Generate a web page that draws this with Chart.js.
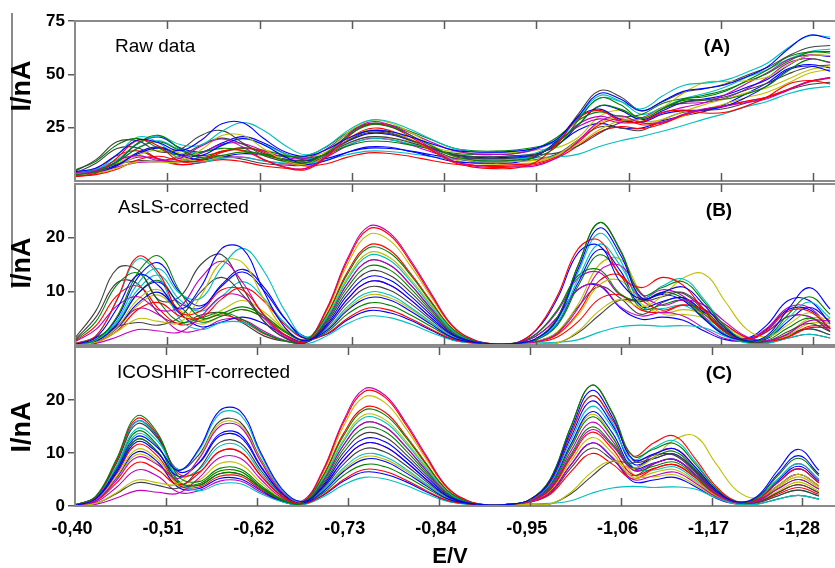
<!DOCTYPE html>
<html>
<head>
<meta charset="utf-8">
<script src="https://cdn.jsdelivr.net/npm/chart.js@4.4.1/dist/chart.umd.min.js"></script>
<style>
  html, body { margin: 0; padding: 0; background: #fff; overflow: hidden; }
  #wrap { position: relative; width: 835px; height: 568px; }
  #wrap canvas { position: absolute; left: 0; top: 0; }
</style>
</head>
<body>
<div id="wrap">
  <canvas id="chartA" width="835" height="568"></canvas>
  <canvas id="chartB" width="835" height="568"></canvas>
  <canvas id="chartC" width="835" height="568"></canvas>
</div>
<script>
// ---- data (potential in V, current in nA) ----
const E_V = [-0.400, -0.425, -0.450, -0.475, -0.500, -0.525, -0.550, -0.575, -0.600, -0.625,
             -0.650, -0.675, -0.700, -0.725, -0.750, -0.775, -0.800, -0.825, -0.850, -0.875,
             -0.900, -0.925, -0.950, -0.975, -1.000, -1.025, -1.050, -1.075, -1.100, -1.125,
             -1.150, -1.175, -1.200, -1.225, -1.250, -1.275, -1.300];

const X_TICKS = [-0.40, -0.51, -0.62, -0.73, -0.84, -0.95, -1.06, -1.17, -1.28];
const Y_TICKS_A = [25, 50, 75];
const Y_TICKS_B = [10, 20];
const Y_TICKS_C = [0, 10, 20];

const LINE_COLORS = ['#0000ff', '#008000', '#ff0000', '#00bfbf', '#bf00bf', '#bfbf00', '#404040'];

// (A) raw voltammograms
const rawCurves = [
  [4.3,6.1,12.3,19.3,17.9,14.2,19.0,26.8,27.3,19.9,13.7,11.6,14.8,20.0,23.5,23.2,20.6,17.5,14.6,13.6,13.5,14.0,15.5,19.8,30.5,41.0,38.4,32.8,37.4,42.0,43.4,45.1,48.8,53.4,61.9,68.3,66.7],
  [3.0,4.2,9.1,17.8,21.4,15.2,10.8,12.0,13.6,12.3,9.8,8.5,13.3,21.2,26.2,25.5,21.5,16.4,11.8,9.8,9.4,9.8,11.1,16.5,28.5,38.8,35.7,29.4,33.7,37.8,38.0,38.4,40.8,44.5,51.7,57.0,55.7],
  [2.0,3.7,10.8,19.1,16.3,9.3,9.9,14.0,14.2,9.9,6.3,5.3,11.3,20.6,26.6,25.6,20.6,14.5,8.9,6.5,5.8,6.1,9.0,17.6,29.5,33.1,28.2,27.7,32.2,33.2,31.9,32.2,35.1,39.4,45.4,47.1,45.5],
  [4.3,5.6,10.0,17.7,21.1,17.1,16.9,23.3,27.4,23.7,16.8,12.3,16.3,23.6,28.4,27.8,24.1,19.6,15.4,13.8,13.5,14.0,15.4,19.4,29.3,38.8,37.3,33.8,39.8,44.8,45.9,47.3,50.9,55.2,62.5,68.0,67.5],
  [2.5,5.1,9.8,11.9,9.7,10.6,16.3,19.7,15.9,10.1,6.7,5.8,12.0,21.5,27.5,26.4,21.4,15.3,9.5,7.0,6.3,6.6,7.2,11.1,18.9,27.9,30.6,27.2,27.6,31.3,33.8,35.1,36.8,38.6,42.6,46.7,48.5],
  [2.8,3.6,6.1,9.0,8.9,9.1,14.5,21.3,21.4,15.1,9.6,8.0,13.6,22.6,28.3,27.3,22.7,17.0,11.7,9.4,8.9,9.2,9.7,12.0,17.5,24.0,28.3,29.1,34.4,41.1,46.2,46.6,47.0,48.8,54.4,58.8,58.8],
  [4.5,10.0,18.4,18.8,13.7,14.8,21.3,23.6,17.8,12.0,9.3,8.7,12.8,18.9,22.7,22.2,19.2,15.5,12.0,10.7,10.4,10.8,12.2,18.4,31.5,42.3,39.5,33.0,37.1,41.5,43.3,45.5,49.5,53.2,58.6,62.6,63.5],
  [2.7,3.6,7.2,13.4,15.9,12.4,11.9,16.7,19.9,16.9,11.4,7.8,9.6,13.5,16.0,15.8,13.8,11.5,9.2,8.5,8.4,8.7,11.6,19.1,30.0,33.7,28.8,27.5,31.3,33.0,33.3,35.1,39.2,44.7,52.0,53.9,51.5],
  [5.1,9.3,16.9,19.9,15.3,12.1,13.5,15.3,14.4,12.6,11.6,11.7,16.1,22.7,26.9,26.4,23.2,19.3,15.6,14.2,14.0,14.5,15.9,18.7,26.6,35.2,33.7,29.8,34.0,38.2,40.2,42.7,46.6,50.4,56.1,60.2,60.7],
  [2.3,3.0,5.5,10.0,11.6,9.5,9.5,13.4,15.7,13.5,9.4,7.0,8.1,11.2,13.2,12.9,11.5,9.6,8.0,7.4,7.3,7.7,8.3,11.6,18.3,26.4,29.2,26.4,27.2,30.9,33.6,35.3,37.4,39.4,42.9,46.4,48.2],
  [3.2,5.1,12.3,20.6,17.8,10.3,8.9,10.7,11.0,9.5,8.4,8.1,9.9,12.4,14.0,13.8,12.8,11.4,10.2,9.8,9.9,10.3,10.9,11.3,12.6,16.2,18.9,20.9,23.3,26.0,29.0,31.7,34.8,37.3,40.9,43.3,44.3],
  [3.8,4.6,6.5,8.7,9.0,9.4,12.9,17.3,17.6,14.1,11.2,10.6,15.1,22.1,26.5,25.9,22.5,18.2,14.4,12.7,12.4,12.9,14.9,19.1,25.5,29.1,27.3,27.8,31.9,34.5,36.7,40.4,45.6,50.7,56.8,59.1,58.6],
  [2.5,3.3,6.5,12.1,14.3,10.9,9.2,11.6,13.7,11.9,8.9,7.3,11.8,19.2,24.0,23.2,19.4,14.6,10.2,8.3,7.9,8.2,8.9,12.3,19.2,27.2,30.0,27.7,28.9,32.6,35.8,38.4,41.3,43.7,47.8,52.0,54.0],
  [3.8,5.4,8.0,9.5,9.5,11.6,16.8,20.1,17.2,12.9,10.2,9.7,12.8,17.6,20.7,20.3,18.0,15.2,12.6,11.5,11.4,11.9,12.4,13.2,16.5,22.4,27.3,29.1,33.8,36.9,37.9,39.5,42.7,45.8,50.2,53.4,54.4],
  [3.5,4.4,7.6,12.8,15.4,12.0,10.0,11.4,12.8,12.0,10.3,9.4,12.9,18.6,22.2,21.8,19.0,15.6,12.4,11.1,10.9,11.3,12.6,16.8,26.3,35.1,33.2,28.8,32.9,36.9,38.4,40.3,43.8,47.6,54.1,58.8,58.4],
  [3.9,5.0,8.9,15.4,18.4,14.3,11.9,13.6,15.2,14.2,12.0,10.8,12.7,16.4,18.6,18.4,16.9,14.9,13.1,12.4,12.4,12.9,15.3,20.6,28.5,32.4,30.2,31.2,36.3,38.6,39.5,42.1,46.9,52.0,58.2,60.5,60.0],
  [2.8,5.9,11.9,14.1,10.1,7.6,8.7,10.0,9.1,7.0,6.0,6.0,11.3,19.4,24.5,23.7,19.4,14.2,9.4,7.4,6.8,7.1,7.7,10.9,16.6,23.0,25.5,24.5,26.8,30.8,33.6,35.3,37.4,39.4,43.0,46.7,48.5],
  [3.6,4.8,8.8,15.6,18.8,14.8,13.2,16.6,19.7,17.1,12.9,10.4,12.5,16.9,19.7,19.4,17.3,14.8,12.4,11.5,11.4,11.9,13.2,18.4,29.9,40.0,37.4,31.3,34.4,38.6,41.0,44.1,48.5,52.2,57.1,60.6,61.9],
  [3.0,3.9,7.3,11.1,10.4,7.8,8.6,10.8,11.2,9.4,8.1,7.9,11.3,16.5,19.9,19.5,16.9,13.6,10.7,9.6,9.4,9.8,12.0,17.9,26.7,30.3,28.2,29.5,34.5,36.4,36.8,38.8,43.1,48.4,55.3,57.4,55.5],
  [4.1,5.1,8.3,13.4,15.9,13.1,11.8,13.9,15.6,14.6,12.4,11.2,13.7,17.8,20.6,20.3,18.5,16.0,13.8,13.0,13.0,13.4,14.5,15.7,20.5,30.2,33.1,28.6,27.7,30.4,33.5,36.2,39.1,41.6,45.9,50.5,52.4],
  [3.7,8.3,15.2,15.5,10.3,8.9,11.0,11.8,10.2,8.2,7.5,7.6,12.1,19.0,23.4,22.7,19.2,14.9,10.9,9.2,8.9,9.2,10.1,12.8,19.4,25.3,24.9,23.7,28.6,32.2,33.0,34.0,36.6,39.1,42.7,45.2,46.3],
  [3.3,4.6,9.2,17.4,20.6,15.6,13.6,17.8,20.8,17.8,12.9,9.8,10.6,13.5,15.4,15.2,14.0,12.3,10.8,10.4,10.4,10.8,12.7,17.2,23.9,27.0,24.9,24.8,28.2,30.6,32.6,36.0,40.9,46.0,52.6,54.6,53.0]
];

// (B) after AsLS baseline correction
const aslsCurves = [
  [0.1,1.4,6.8,13.1,11.0,6.7,10.8,18.0,17.9,10.0,3.3,0.8,3.6,8.6,11.8,11.2,8.4,5.0,1.9,0.6,0.2,0.3,1.2,4.8,14.3,21.8,16.8,8.8,9.8,10.8,7.4,3.1,0.8,1.8,6.7,10.7,6.7],
  [0.1,1.0,5.3,13.5,16.6,10.0,5.1,5.9,7.1,5.5,2.6,1.0,5.6,13.3,18.1,17.2,13.0,7.8,3.0,0.8,0.2,0.3,1.2,5.1,15.0,22.8,17.7,9.4,10.7,11.8,8.0,3.4,0.8,1.5,5.7,9.0,5.7],
  [0.2,1.7,8.5,16.5,13.4,6.1,6.4,10.3,10.2,5.7,1.9,0.7,6.6,15.8,21.6,20.5,15.4,9.2,3.5,1.0,0.2,0.3,2.9,9.2,18.0,19.5,12.9,10.7,12.6,11.1,6.4,2.4,1.1,2.8,6.3,6.3,3.0],
  [0.1,0.9,4.5,11.5,14.2,9.6,8.7,14.5,18.0,13.8,6.4,1.5,5.1,12.2,16.7,15.8,11.9,7.1,2.7,0.8,0.2,0.3,1.1,4.2,12.4,18.8,14.8,8.8,11.0,12.3,8.4,3.5,0.9,1.4,5.0,8.0,5.0],
  [0.6,2.9,7.3,9.0,6.5,7.1,12.5,15.6,11.6,5.5,1.9,0.8,6.8,16.2,22.1,20.9,15.8,9.5,3.6,1.0,0.2,0.3,0.6,2.2,7.0,13.8,14.8,9.6,7.4,8.4,7.4,4.3,1.6,0.8,2.1,4.5,4.5],
  [0.1,0.5,2.5,4.9,4.4,4.2,9.1,15.5,15.3,8.6,2.8,0.9,6.3,15.1,20.6,19.5,14.7,8.8,3.4,0.9,0.2,0.3,0.3,0.4,2.6,6.4,8.5,7.1,9.1,12.5,13.2,8.1,3.0,1.5,3.8,6.0,3.8],
  [1.3,6.4,14.2,14.0,8.4,9.0,15.0,16.8,10.6,4.4,1.3,0.4,4.2,10.1,13.7,13.0,9.8,5.9,2.2,0.7,0.2,0.3,1.2,5.1,15.0,22.8,17.5,8.6,9.0,9.8,6.7,2.8,0.7,0.7,2.5,4.0,2.5],
  [0.1,0.7,3.8,9.6,11.7,7.8,6.9,11.3,14.1,10.8,5.0,1.2,2.7,6.5,8.8,8.4,6.3,3.8,1.4,0.5,0.2,0.3,2.8,8.7,17.2,18.5,11.7,8.5,9.4,8.3,4.8,1.8,1.2,3.8,8.3,8.3,4.0],
  [0.8,4.4,11.2,13.4,8.1,4.3,5.0,6.1,4.7,2.3,0.8,0.5,4.5,10.8,14.7,14.0,10.5,6.3,2.4,0.7,0.2,0.3,1.0,3.7,11.1,16.8,13.0,6.8,7.5,8.3,5.7,2.4,0.6,0.9,3.2,5.0,3.2],
  [0.1,0.5,2.6,6.6,7.9,5.4,5.1,8.6,10.7,8.2,3.8,1.2,2.1,5.0,6.9,6.5,4.9,2.9,1.1,0.4,0.2,0.3,0.6,2.0,6.1,12.0,13.0,8.4,6.5,7.5,6.6,3.8,1.4,0.7,1.5,3.2,3.2],
  [0.2,1.7,8.3,16.0,12.8,4.8,2.9,4.2,4.2,2.3,0.8,0.2,1.7,4.0,5.4,5.1,3.9,2.3,0.9,0.3,0.2,0.3,0.4,0.5,1.0,2.4,3.4,3.7,3.5,3.6,3.2,1.6,0.4,0.3,1.3,2.0,1.3],
  [0.0,0.3,1.5,2.9,2.6,2.4,5.3,9.1,9.0,5.0,1.6,0.6,4.8,11.5,15.7,14.9,11.2,6.7,2.6,0.7,0.2,0.3,1.7,5.2,10.4,11.2,7.1,5.4,6.1,5.4,3.1,1.2,0.8,2.5,5.3,5.3,2.6],
  [0.1,0.6,3.3,8.5,10.3,6.5,4.5,6.5,8.3,6.2,2.9,1.1,5.3,12.6,17.2,16.3,12.3,7.4,2.8,0.8,0.2,0.3,0.6,1.9,5.7,11.2,12.0,7.7,5.9,6.6,5.8,3.4,1.3,0.7,1.8,4.0,4.0],
  [0.3,1.4,3.4,4.2,3.7,5.2,9.9,12.6,9.3,4.5,1.4,0.6,3.3,7.9,10.8,10.2,7.7,4.6,1.8,0.5,0.2,0.3,0.3,0.4,2.3,5.6,8.4,8.1,9.6,9.6,6.4,2.7,0.7,0.6,1.9,3.0,1.9],
  [0.1,0.6,3.2,7.8,9.8,5.9,3.4,4.3,5.2,4.0,1.9,0.7,3.9,9.4,12.7,12.1,9.1,5.5,2.1,0.6,0.2,0.3,1.0,4.0,11.7,17.8,13.8,7.2,8.1,8.8,6.0,2.5,0.6,1.2,4.4,7.0,4.4],
  [0.1,0.7,3.9,9.6,12.0,7.3,4.3,5.4,6.6,5.1,2.4,0.8,2.4,5.8,7.8,7.4,5.6,3.4,1.3,0.4,0.2,0.3,2.1,6.6,13.0,14.0,9.5,8.2,9.8,8.7,5.0,1.8,0.9,2.5,5.3,5.3,2.5],
  [0.7,3.6,9.2,11.0,6.7,3.8,4.6,5.6,4.4,2.1,0.8,0.6,5.7,13.7,18.6,17.7,13.3,8.0,3.0,0.9,0.2,0.3,0.5,1.5,4.4,8.6,9.3,6.5,6.1,7.4,6.6,3.8,1.4,0.7,1.6,3.5,3.5],
  [0.1,0.8,4.2,10.3,13.0,8.4,6.3,9.1,11.8,8.7,4.1,1.3,3.0,7.2,9.8,9.3,7.0,4.2,1.6,0.5,0.2,0.3,1.1,4.6,13.7,20.8,15.8,7.3,6.8,7.4,5.0,2.1,0.5,0.6,1.9,3.0,1.9],
  [0.1,0.7,3.5,6.8,5.6,2.6,2.9,4.7,4.7,2.6,0.9,0.4,3.6,8.6,11.8,11.2,8.4,5.0,1.9,0.6,0.2,0.3,2.1,6.3,12.5,13.5,9.3,8.5,10.3,9.1,5.3,2.0,1.1,3.2,7.0,7.0,3.0],
  [0.1,0.6,3.0,7.4,9.3,5.8,3.9,5.4,6.6,5.1,2.4,0.8,2.9,6.8,9.3,8.8,6.7,4.0,1.5,0.5,0.2,0.3,0.7,2.5,7.7,15.0,16.0,9.6,5.8,5.7,5.0,2.9,1.1,0.7,2.2,4.9,4.9],
  [1.0,5.2,11.6,11.4,5.8,4.0,5.6,6.0,4.1,1.7,0.7,0.5,4.8,11.5,15.7,14.9,11.2,6.7,2.6,0.7,0.2,0.3,0.7,2.4,7.2,10.9,8.7,5.7,7.9,8.8,6.0,2.5,0.6,0.4,1.3,2.0,1.3],
  [0.1,1.0,5.0,12.6,15.3,9.8,7.3,11.0,13.6,10.2,4.9,1.5,2.0,4.7,6.4,6.0,4.6,2.7,1.0,0.4,0.2,0.3,1.7,5.2,10.4,11.0,6.9,4.8,5.2,4.6,2.6,1.0,0.9,3.0,6.6,6.6,3.0]
];

// (C) after ICOSHIFT alignment
const icoshiftCurves = [
  [0.1,1.4,6.8,13.1,11.0,6.7,10.8,18.0,17.9,10.0,3.3,0.8,3.6,8.6,11.8,11.2,8.4,5.0,1.9,0.6,0.2,0.3,1.2,4.8,14.3,21.8,16.8,8.8,9.8,10.8,7.4,3.1,0.8,1.8,6.7,10.7,6.7],
  [0.2,1.8,8.8,17.0,13.7,5.6,4.6,7.1,7.0,3.9,1.3,0.6,5.6,13.3,18.1,17.2,13.0,7.8,3.0,0.8,0.2,0.3,1.2,5.1,15.0,22.8,17.7,9.4,10.7,11.8,8.0,3.4,0.8,1.5,5.7,9.0,5.7],
  [0.2,1.7,8.5,16.5,13.4,6.1,6.4,10.3,10.2,5.7,1.9,0.7,6.6,15.8,21.6,20.5,15.4,9.2,3.5,1.0,0.2,0.3,1.1,4.6,13.7,20.8,16.3,9.5,11.9,13.2,9.0,3.8,0.9,1.2,4.4,7.0,4.4],
  [0.2,1.5,7.5,14.6,12.2,6.9,10.5,17.4,17.2,9.6,3.1,0.9,5.1,12.2,16.7,15.8,11.9,7.1,2.7,0.8,0.2,0.3,1.1,4.2,12.4,18.8,14.8,8.8,11.0,12.3,8.4,3.5,0.9,1.4,5.0,8.0,5.0],
  [0.1,1.0,4.8,9.2,7.8,5.2,8.9,15.0,14.9,8.3,2.7,1.0,6.8,16.2,22.1,20.9,15.8,9.5,3.6,1.0,0.2,0.3,0.9,3.5,10.4,15.8,12.3,6.8,8.0,8.8,6.0,2.5,0.6,0.9,3.2,5.0,3.2],
  [0.1,0.5,2.5,4.9,4.4,4.2,9.1,15.5,15.3,8.6,2.8,0.9,6.3,15.1,20.6,19.5,14.7,8.8,3.4,0.9,0.2,0.3,0.3,0.4,2.6,6.4,8.5,7.1,9.1,12.5,13.2,8.1,3.0,1.5,3.8,6.0,3.8],
  [0.2,1.6,8.0,15.5,12.8,6.9,9.7,16.0,15.8,8.8,2.9,0.8,4.2,10.1,13.7,13.0,9.8,5.9,2.2,0.7,0.2,0.3,1.2,5.1,15.0,22.8,17.5,8.6,9.0,9.8,6.7,2.8,0.7,0.7,2.5,4.0,2.5],
  [0.1,1.3,6.3,12.1,10.0,5.6,8.2,13.6,13.5,7.5,2.5,0.6,2.7,6.5,8.8,8.4,6.3,3.8,1.4,0.5,0.2,0.3,1.1,4.4,13.0,19.8,15.3,8.0,8.9,9.8,6.7,2.8,0.7,1.6,6.0,9.5,6.0],
  [0.1,1.5,7.3,14.1,11.4,4.7,3.9,6.1,6.0,3.4,1.1,0.5,4.5,10.8,14.7,14.0,10.5,6.3,2.4,0.7,0.2,0.3,1.0,3.7,11.1,16.8,13.0,6.8,7.5,8.3,5.7,2.4,0.6,0.9,3.2,5.0,3.2],
  [0.1,0.9,4.3,8.2,6.8,4.0,6.2,10.3,10.2,5.7,1.9,0.4,2.1,5.0,6.9,6.5,4.9,2.9,1.1,0.4,0.2,0.3,0.9,3.1,9.1,13.9,10.8,5.9,7.1,7.8,5.4,2.2,0.6,0.7,2.2,3.5,2.2],
  [0.2,1.7,8.3,16.0,12.8,4.8,2.9,4.2,4.2,2.3,0.8,0.2,1.7,4.0,5.4,5.1,3.9,2.3,0.9,0.3,0.2,0.3,0.4,0.5,1.0,2.4,3.4,3.7,3.5,3.6,3.2,1.6,0.4,0.3,1.3,2.0,1.3],
  [0.0,0.3,1.5,2.9,2.6,2.4,5.3,9.1,9.0,5.0,1.6,0.6,4.8,11.5,15.7,14.9,11.2,6.7,2.6,0.7,0.2,0.3,0.8,2.6,7.8,11.9,9.2,5.0,5.7,6.4,4.4,1.8,0.5,1.1,3.8,6.0,3.8],
  [0.1,1.1,5.5,10.7,8.8,4.1,4.9,8.0,7.9,4.4,1.4,0.7,5.3,12.6,17.2,16.3,12.3,7.4,2.8,0.8,0.2,0.3,0.8,2.9,8.5,12.9,10.0,5.4,6.3,6.9,4.7,2.0,0.5,0.8,2.8,4.5,2.8],
  [0.0,0.5,2.3,4.4,3.9,3.4,7.0,12.0,11.9,6.7,2.2,0.6,3.3,7.9,10.8,10.2,7.7,4.6,1.8,0.5,0.2,0.3,0.3,0.4,2.3,5.6,8.4,8.1,9.6,9.6,6.4,2.7,0.7,0.6,1.9,3.0,1.9],
  [0.1,1.1,5.3,10.2,8.3,3.5,3.3,5.2,5.1,2.9,0.9,0.5,3.9,9.4,12.7,12.1,9.1,5.5,2.1,0.6,0.2,0.3,1.0,4.0,11.7,17.8,13.8,7.2,8.1,8.8,6.0,2.5,0.6,1.2,4.4,7.0,4.4],
  [0.1,1.3,6.5,12.6,10.2,4.4,4.2,6.6,6.5,3.6,1.2,0.4,2.4,5.8,7.8,7.4,5.6,3.4,1.3,0.4,0.2,0.3,0.9,3.3,9.8,14.9,11.7,7.2,9.2,10.3,7.0,2.9,0.7,1.1,3.8,6.0,3.8],
  [0.1,1.2,6.0,11.6,9.4,4.0,3.6,5.6,5.6,3.1,1.0,0.6,5.7,13.7,18.6,17.7,13.3,8.0,3.0,0.9,0.2,0.3,0.7,2.2,6.5,9.9,7.9,5.1,7.0,7.8,5.4,2.2,0.6,0.7,2.5,4.0,2.5],
  [0.1,1.4,7.0,13.6,11.2,5.6,6.9,11.3,11.2,6.2,2.0,0.6,3.0,7.2,9.8,9.3,7.0,4.2,1.6,0.5,0.2,0.3,1.1,4.6,13.7,20.8,15.8,7.3,6.8,7.4,5.0,2.1,0.5,0.6,1.9,3.0,1.9],
  [0.1,0.7,3.5,6.8,5.6,2.6,2.9,4.7,4.7,2.6,0.9,0.4,3.6,8.6,11.8,11.2,8.4,5.0,1.9,0.6,0.2,0.3,0.9,3.2,9.4,14.4,11.4,7.2,9.7,10.8,7.4,3.1,0.8,1.4,5.0,8.0,5.0],
  [0.1,1.0,5.0,9.7,7.9,3.7,4.1,6.6,6.5,3.6,1.2,0.4,2.9,6.8,9.3,8.8,6.7,4.0,1.5,0.5,0.2,0.3,1.0,3.9,11.4,17.3,13.1,6.0,5.5,5.9,4.0,1.7,0.4,0.9,3.5,5.5,3.5],
  [0.1,1.3,6.5,12.6,10.2,4.3,3.9,6.1,6.0,3.4,1.1,0.5,4.8,11.5,15.7,14.9,11.2,6.7,2.6,0.7,0.2,0.3,0.7,2.4,7.2,10.9,8.7,5.7,7.9,8.8,6.0,2.5,0.6,0.4,1.3,2.0,1.3],
  [0.2,1.7,8.3,16.0,13.1,6.5,8.1,13.2,13.0,7.3,2.4,0.5,2.0,4.7,6.4,6.0,4.6,2.7,1.0,0.4,0.2,0.3,0.8,2.6,7.8,11.9,9.1,4.6,4.9,5.4,3.7,1.5,0.4,1.3,4.7,7.5,4.7]
];

// ---- drawing ----
const FONT = '"Liberation Sans", Arial, sans-serif';
const FRAME_COLOR = '#8a8a8a';
const TICK_COLOR = '#5a5a5a';
const X_LEFT = -0.40;
const X_RIGHT = -1.3034;

// frame, inward x ticks and free text for each panel
const panelDecor = {
  id: 'panelDecor',
  afterDatasetsDraw(chart, args, opts) {
    const { ctx, chartArea: a } = chart;
    const x = chart.scales.x;
    ctx.save();
    ctx.strokeStyle = FRAME_COLOR;
    ctx.lineWidth = 2;
    ctx.beginPath();
    ctx.moveTo(chart.width, a.top);
    ctx.lineTo(a.left, a.top);
    ctx.lineTo(a.left, a.bottom);
    ctx.lineTo(chart.width, a.bottom);
    ctx.stroke();

    ctx.strokeStyle = TICK_COLOR;
    ctx.lineWidth = 1.5;
    ctx.beginPath();
    X_TICKS.slice(1).forEach(v => {
      const px = Math.round(x.getPixelForValue(v)) + 0.5;
      ctx.moveTo(px, a.top);
      ctx.lineTo(px, a.top + 8);
      ctx.moveTo(px, a.bottom);
      ctx.lineTo(px, a.bottom - 8);
    });
    ctx.stroke();

    if (opts.sideLine) {
      ctx.strokeStyle = FRAME_COLOR;
      ctx.lineWidth = 2;
      ctx.beginPath();
      ctx.moveTo(12, opts.sideLine[0]);
      ctx.lineTo(12, opts.sideLine[1]);
      ctx.stroke();
    }

    ctx.fillStyle = '#000';
    (opts.texts || []).forEach(t => {
      ctx.save();
      ctx.font = t.font;
      ctx.textAlign = t.align || 'left';
      ctx.textBaseline = 'alphabetic';
      ctx.translate(t.x, t.y);
      if (t.rotate) ctx.rotate(-Math.PI / 2);
      ctx.fillText(t.text, 0, 0);
      ctx.restore();
    });
    ctx.restore();
  }
};

function makePanel(id, curves, yMax, yTicks, box, showX, texts, sideLine) {
  const datasets = curves.map((ys, k) => ({
    data: ys.map((y, i) => ({ x: E_V[i], y: y })),
    borderColor: LINE_COLORS[k % LINE_COLORS.length],
    borderWidth: 1.1,
    pointRadius: 0,
    tension: 0.4,
    fill: false
  }));

  return new Chart(document.getElementById(id), {
    type: 'line',
    data: { datasets: datasets },
    options: {
      responsive: false,
      animation: false,
      events: [],
      layout: { padding: { top: box.top, bottom: showX ? 0 : 568 - box.bottom, left: 0, right: 2 } },
      plugins: {
        legend: { display: false },
        tooltip: { enabled: false },
        panelDecor: { texts: texts, sideLine: sideLine }
      },
      scales: {
        x: {
          type: 'linear',
          reverse: true,
          min: X_RIGHT,
          max: X_LEFT,
          display: showX,
          afterBuildTicks: s => { s.ticks = X_TICKS.map(v => ({ value: v })); },
          afterFit: s => { s.height = showX ? 568 - box.bottom : 0; },
          grid: { display: false, drawTicks: false },
          border: { display: false },
          ticks: {
            autoSkip: false,
            maxRotation: 0,
            padding: 12,
            labelOffset: -3,
            color: '#000',
            font: { family: FONT, size: 18, weight: 'bold' },
            callback: v => v.toFixed(2).replace('.', ',')
          }
        },
        y: {
          min: 0,
          max: yMax,
          afterFit: s => { s.width = 75; },
          afterBuildTicks: s => { s.ticks = yTicks.map(v => ({ value: v })); },
          grid: { drawOnChartArea: false, drawTicks: true, tickLength: 7, color: TICK_COLOR, lineWidth: 1.5 },
          border: { display: false },
          ticks: { padding: 3, color: '#000', font: { family: FONT, size: 17, weight: 'bold' } }
        }
      }
    },
    plugins: [panelDecor]
  });
}

const LABEL_FONT = '19px ' + FONT;
const TAG_FONT = 'bold 19px ' + FONT;
const AXIS_FONT = 'bold 27px ' + FONT;

makePanel('chartA', rawCurves, 75, Y_TICKS_A, { top: 21, bottom: 181 }, false, [
  { text: 'Raw data', x: 115, y: 52, font: LABEL_FONT },
  { text: '(A)', x: 717, y: 52, font: TAG_FONT, align: 'center' },
  { text: 'I/nA', x: 30, y: 86, font: AXIS_FONT, align: 'center', rotate: true }
], [13, 288]);

makePanel('chartB', aslsCurves, 30, Y_TICKS_B, { top: 184, bottom: 345 }, false, [
  { text: 'AsLS-corrected', x: 118, y: 213, font: LABEL_FONT },
  { text: '(B)', x: 719, y: 216, font: TAG_FONT, align: 'center' },
  { text: 'I/nA', x: 30, y: 263, font: AXIS_FONT, align: 'center', rotate: true }
]);

makePanel('chartC', icoshiftCurves, 30, Y_TICKS_C, { top: 347, bottom: 506 }, true, [
  { text: 'ICOSHIFT-corrected', x: 117, y: 378, font: LABEL_FONT },
  { text: '(C)', x: 719, y: 379, font: TAG_FONT, align: 'center' },
  { text: 'I/nA', x: 30, y: 427, font: AXIS_FONT, align: 'center', rotate: true },
  { text: 'E/V', x: 450, y: 563, font: 'bold 22px ' + FONT, align: 'center' }
]);
</script>
</body>
</html>
